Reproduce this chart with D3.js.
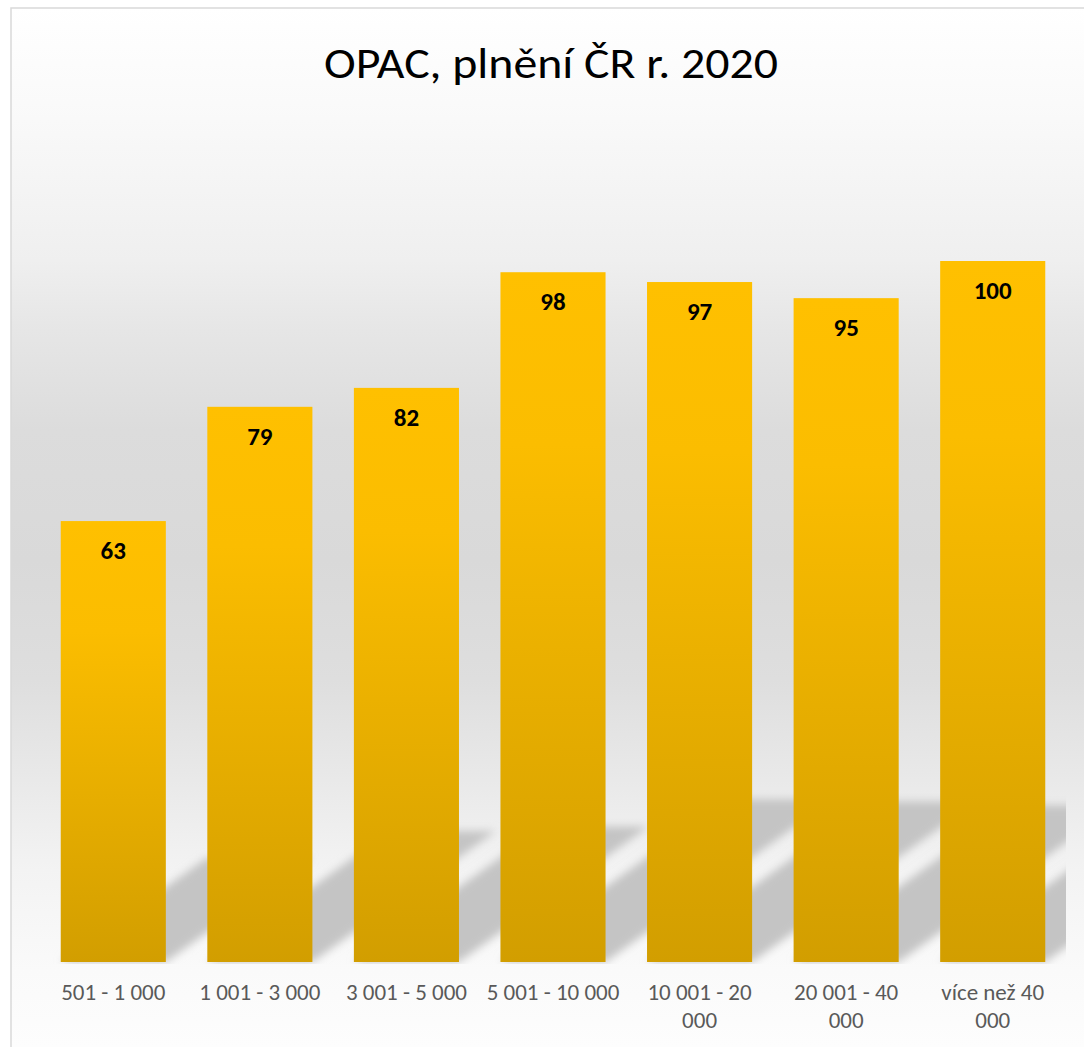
<!DOCTYPE html>
<html lang="cs">
<head>
<meta charset="UTF-8">
<title>OPAC, plnění ČR r. 2020</title>
<script src="https://cdn.jsdelivr.net/npm/d3@7/dist/d3.min.js"></script>
<style>
  body { margin: 0; background: #fff; }
  svg { display: block; }
  text { font-family: Carlito, Calibri, Lato, sans-serif; }
</style>
</head>
<body>
<script>
// data
const title = "OPAC, plnění ČR r. 2020";
const categories = ["501 - 1 000", "1 001 - 3 000", "3 001 - 5 000", "5 001 - 10 000",
                    "10 001 - 20 000", "20 001 - 40 000", "více než 40 000"];
const values = [62.9, 79.2, 81.9, 98.4, 97.0, 94.7, 100];

const width = 1084, height = 1047;
const data = categories.map((c, i) => ({ cat: c, value: values[i] }));

const svg = d3.select("body").append("svg")
    .attr("width", width)
    .attr("height", height);

const defs = svg.append("defs");

// background of the chart area: white -> grey -> white
const bg = defs.append("linearGradient")
    .attr("id", "bg")
    .attr("gradientUnits", "userSpaceOnUse")
    .attr("x1", 0).attr("x2", 0).attr("y1", 8).attr("y2", height);
[[8, "#ffffff"], [120, "#f9f9f9"], [260, "#efefef"], [330, "#e6e6e6"], [430, "#dcdcdc"],
 [560, "#d9d9d9"], [680, "#dedede"], [780, "#e9e9e9"], [870, "#f3f3f3"], [970, "#fafafa"],
 [height, "#fdfdfd"]].forEach(([yy, c]) => {
    bg.append("stop").attr("offset", (yy - 8) / (height - 8)).attr("stop-color", c);
});

// gold bars
const gold = defs.append("linearGradient")
    .attr("id", "gold")
    .attr("x1", 0).attr("x2", 0).attr("y1", 0).attr("y2", 1);
gold.append("stop").attr("offset", 0).attr("stop-color", "#ffc000");
gold.append("stop").attr("offset", 0.25).attr("stop-color", "#fbbd00");
gold.append("stop").attr("offset", 1).attr("stop-color", "#d29e00");

defs.append("filter")
    .attr("id", "blur")
    .attr("x", "-20%").attr("y", "-20%").attr("width", "140%").attr("height", "140%")
  .append("feGaussianBlur")
    .attr("stdDeviation", 4);

const x = d3.scaleBand()
    .domain(categories)
    .range([40, 1066])
    .paddingInner(0.283)
    .paddingOuter(0.1415);

const y = d3.scaleLinear()
    .domain([0, 100])
    .range([962, 261]);

defs.append("clipPath").attr("id", "plot")
  .append("rect")
    .attr("x", 12).attr("y", 8)
    .attr("width", x.range()[1] - 12)
    .attr("height", y(0) - 6);

// chart area
svg.append("rect")
    .attr("x", 11).attr("y", 8)
    .attr("width", width).attr("height", height)
    .attr("fill", "url(#bg)")
    .attr("stroke", "#d9d9d9")
    .attr("stroke-width", 1.5);

// title
svg.append("text")
    .attr("x", 551)
    .attr("y", 78)
    .attr("text-anchor", "middle")
    .attr("font-size", 43)
    .attr("fill", "#000")
    .attr("textLength", 454)
    .attr("lengthAdjust", "spacingAndGlyphs")
    .text(title);

// perspective shadows behind bars
const shadow = svg.append("g")
    .attr("clip-path", "url(#plot)")
  .append("g")
    .attr("filter", "url(#blur)");

shadow.selectAll("polygon")
    .data(data)
    .join("polygon")
    .attr("fill", "#c4c4c4")
    .attr("points", d => {
        const x0 = x(d.cat), x1 = x0 + x.bandwidth(), base = y(0);
        const h = 0.236 * (y(0) - y(d.value));
        const dx = 1.4 * h;
        return [[x0, base], [x1, base], [x1 + dx, base - h], [x0 + dx, base - h]]
            .map(p => p.join(",")).join(" ");
    });

// bars
svg.append("g")
    .selectAll("rect")
    .data(data)
    .join("rect")
    .attr("x", d => x(d.cat))
    .attr("y", d => y(d.value))
    .attr("width", x.bandwidth())
    .attr("height", d => y(0) - y(d.value))
    .attr("fill", "url(#gold)");

// value labels
svg.append("g")
    .selectAll("text")
    .data(data)
    .join("text")
    .attr("x", d => x(d.cat) + x.bandwidth() / 2)
    .attr("y", d => y(d.value) + 38)
    .attr("text-anchor", "middle")
    .attr("font-size", 25)
    .attr("font-weight", "bold")
    .attr("fill", "#000")
    .text(d => d3.format(".0f")(d.value));

// category labels, long ones wrap before the last word
function lines(label) {
    if (label.length <= 14) return [label];
    const i = label.lastIndexOf(" ");
    return [label.slice(0, i), label.slice(i + 1)];
}

const xAxis = svg.append("g")
    .attr("transform", `translate(0,${y(0)})`)
    .call(d3.axisBottom(x).tickSize(0).tickFormat(""));
xAxis.select(".domain").remove();

xAxis.selectAll(".tick").append("text")
    .attr("text-anchor", "middle")
    .attr("font-size", 23)
    .attr("fill", "#595959")
    .selectAll("tspan")
    .data(d => lines(d))
    .join("tspan")
    .attr("x", 0)
    .attr("y", (d, i) => 38 + i * 28)
    .text(d => d);
</script>
</body>
</html>
